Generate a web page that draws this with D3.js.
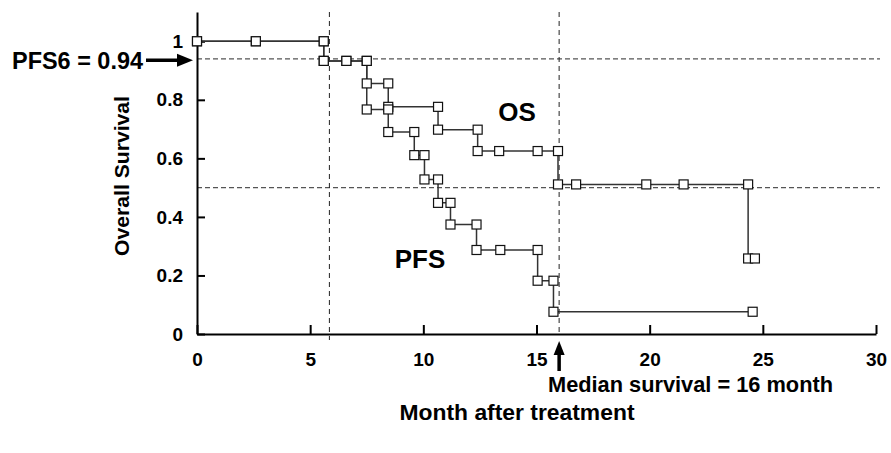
<!DOCTYPE html>
<html>
<head>
<meta charset="utf-8">
<script src="https://cdn.jsdelivr.net/npm/d3@7"></script>
<style>
  html, body { margin: 0; padding: 0; background: #fff; }
  svg { display: block; }
  text { font-family: "Liberation Sans", Arial, sans-serif; font-weight: bold; fill: #000; }
</style>
</head>
<body>
<svg id="chart" width="891" height="453"></svg>
<script>
// Kaplan-Meier step curves: each corner of a step is a plotted point.
const osMonths    = [0, 2.6, 5.6, 5.6, 6.6, 7.5, 7.5, 8.45, 8.45, 10.65, 10.65, 12.4, 12.4, 13.35, 15.05, 15.95, 15.95, 16.75, 19.85, 21.5, 24.35, 24.35, 24.65];
const osSurvival  = [1, 1, 1, 0.933, 0.933, 0.933, 0.856, 0.856, 0.776, 0.776, 0.698, 0.698, 0.625, 0.625, 0.625, 0.625, 0.511, 0.511, 0.511, 0.511, 0.511, 0.258, 0.258];

const pfsMonths   = [0, 2.6, 5.6, 5.6, 6.6, 7.5, 7.5, 8.45, 8.45, 9.6, 9.6, 10.05, 10.05, 10.65, 10.65, 11.2, 11.2, 12.35, 12.35, 13.4, 15.05, 15.05, 15.75, 15.75, 24.55];
const pfsSurvival = [1, 1, 1, 0.933, 0.933, 0.933, 0.767, 0.767, 0.69, 0.69, 0.611, 0.611, 0.528, 0.528, 0.448, 0.448, 0.374, 0.374, 0.287, 0.287, 0.287, 0.182, 0.182, 0.076, 0.076];

const xTicks = [0, 5, 10, 15, 20, 25, 30];
const yTicks = [0, 0.2, 0.4, 0.6, 0.8, 1];
const yTickLabels = ["0", "0.2", "0.4", "0.6", "0.8", "1"];

const pfs6Value = 0.94;
const pfs6Month = 5.85;
const medianMonth = 16;
const medianLevel = 0.5;

const svg = d3.select("#chart");
const margin = { left: 197, top: 12, right: 15, bottom: 119 };
const width = 891 - margin.left - margin.right;   // 679
const height = 453 - margin.top - margin.bottom;  // 322

const x = d3.scaleLinear().domain([0, 30]).range([margin.left, margin.left + width]);
const y = d3.scaleLinear().domain([0, 1.1]).range([margin.top + height, margin.top]);

// Reference lines (dashed)
const refs = svg.append("g");
refs.append("line")
  .attr("x1", x(0)).attr("x2", x(30) + 4)
  .attr("y1", y(pfs6Value)).attr("y2", y(pfs6Value))
  .attr("stroke", "#555").attr("stroke-width", 1.2).attr("stroke-dasharray", "5,3");
refs.append("line")
  .attr("x1", x(0)).attr("x2", x(30) + 4)
  .attr("y1", y(medianLevel)).attr("y2", y(medianLevel))
  .attr("stroke", "#555").attr("stroke-width", 1.2).attr("stroke-dasharray", "5,3");
refs.append("line")
  .attr("x1", x(pfs6Month)).attr("x2", x(pfs6Month))
  .attr("y1", y(1.1)).attr("y2", y(0) + 6)
  .attr("stroke", "#222").attr("stroke-width", 1).attr("stroke-dasharray", "5,4");
refs.append("line")
  .attr("x1", x(medianMonth)).attr("x2", x(medianMonth))
  .attr("y1", y(1.1)).attr("y2", y(0))
  .attr("stroke", "#222").attr("stroke-width", 1).attr("stroke-dasharray", "5,4");

// Axes with inward ticks
const xAxis = d3.axisBottom(x).tickValues(xTicks).tickFormat(d3.format("d"))
  .tickSizeInner(-9).tickSizeOuter(0).tickPadding(19);
const yAxis = d3.axisLeft(y).tickValues(yTicks).tickFormat((d, i) => yTickLabels[i])
  .tickSizeInner(-8).tickSizeOuter(0).tickPadding(14);

const gx = svg.append("g").attr("transform", `translate(0,${y(0)})`).call(xAxis);
const gy = svg.append("g").attr("transform", `translate(${x(0)},0)`).call(yAxis);
[gx, gy].forEach(g => {
  g.select(".domain").attr("stroke", "#000").attr("stroke-width", 2);
  g.selectAll(".tick line").attr("stroke", "#000").attr("stroke-width", 2);
  g.selectAll(".tick text").attr("font-size", 19).attr("font-family", "Liberation Sans, Arial, sans-serif")
    .attr("font-weight", "bold").attr("fill", "#000");
});

// Survival curves
const line = d3.line().x(d => x(d[0])).y(d => y(d[1]));
const series = [
  { name: "OS", pts: d3.zip(osMonths, osSurvival) },
  { name: "PFS", pts: d3.zip(pfsMonths, pfsSurvival) }
];
series.forEach(s => {
  svg.append("path").datum(s.pts)
    .attr("d", line).attr("fill", "none")
    .attr("stroke", "#333").attr("stroke-width", 1.5);
});
const m = 9;
series.forEach(s => {
  svg.append("g").selectAll("rect").data(s.pts).join("rect")
    .attr("x", d => x(d[0]) - m / 2).attr("y", d => y(d[1]) - m / 2)
    .attr("width", m).attr("height", m)
    .attr("fill", "#fff").attr("stroke", "#111").attr("stroke-width", 1.2);
});

// Curve labels
svg.append("text").attr("x", 517).attr("y", y(0.625) - 30).attr("text-anchor", "middle")
  .attr("font-size", 26).text("OS");
svg.append("text").attr("x", 420).attr("y", y(0.287) + 18).attr("text-anchor", "middle")
  .attr("font-size", 26).text("PFS");

// PFS6 annotation with arrow to the y axis
const yP = y(pfs6Value);
svg.append("text").attr("x", 143).attr("y", yP + 10).attr("text-anchor", "end")
  .attr("font-size", 23).attr("textLength", 131).attr("lengthAdjust", "spacingAndGlyphs")
  .text("PFS6 = 0.94");
svg.append("line").attr("x1", 146).attr("x2", x(0) - 18)
  .attr("y1", yP + 1.5).attr("y2", yP + 1.5).attr("stroke", "#000").attr("stroke-width", 3.5);
svg.append("path")
  .attr("d", `M${x(0) - 4},${yP + 1.5} L${x(0) - 20},${yP - 5} L${x(0) - 20},${yP + 8} Z`)
  .attr("fill", "#000");

// Median survival annotation with arrow up to the x axis
const xm = x(medianMonth);
svg.append("line").attr("x1", xm).attr("x2", xm)
  .attr("y1", y(0) + 18).attr("y2", y(0) + 37).attr("stroke", "#000").attr("stroke-width", 3.5);
svg.append("path")
  .attr("d", `M${xm},${y(0) + 7} L${xm - 5.5},${y(0) + 21} L${xm + 5.5},${y(0) + 21} Z`)
  .attr("fill", "#000");
svg.append("text").attr("x", 548).attr("y", y(0) + 58)
  .attr("font-size", 22).attr("textLength", 285).attr("lengthAdjust", "spacingAndGlyphs")
  .text("Median survival = 16 month");

// Axis titles
svg.append("text").attr("x", 517).attr("y", 420).attr("text-anchor", "middle")
  .attr("font-size", 22).attr("textLength", 235).attr("lengthAdjust", "spacingAndGlyphs")
  .text("Month after treatment");
svg.append("text").attr("transform", `translate(129,176) rotate(-90)`).attr("text-anchor", "middle")
  .attr("font-size", 21).attr("textLength", 160).attr("lengthAdjust", "spacingAndGlyphs")
  .text("Overall Survival");
</script>
</body>
</html>
